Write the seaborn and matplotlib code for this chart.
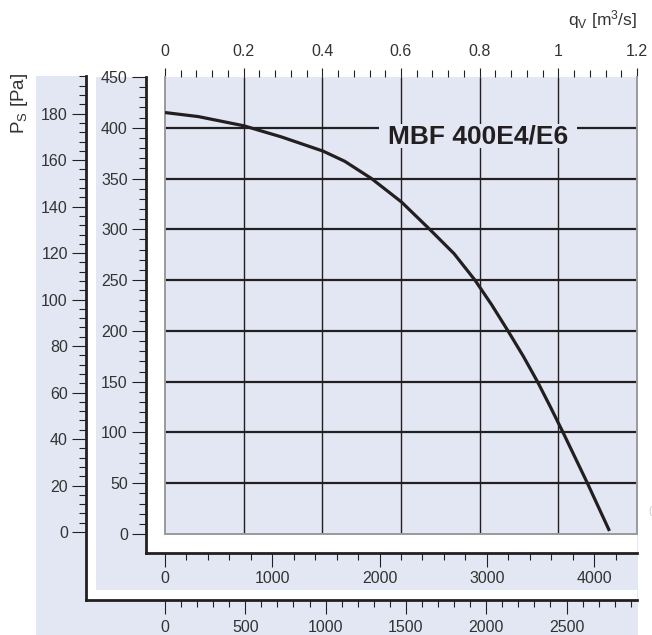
import numpy as np
import pandas as pd
import matplotlib
matplotlib.use("Agg")
import matplotlib.pyplot as plt
from matplotlib.patches import Rectangle
from matplotlib.path import Path
from matplotlib.ticker import FixedLocator, FixedFormatter, NullFormatter
import seaborn as sns

# ---------------- data ----------------
q_flow = [0.0, 0.085, 0.2, 0.296, 0.402, 0.457, 0.525, 0.601, 0.673, 0.735,
          0.788, 0.830, 0.872, 0.911, 0.947, 0.980, 1.012, 1.043, 1.074, 1.13]
ps_pa = [415, 411, 402, 391, 377, 367, 350, 327, 300, 276,
         250, 226, 200, 175, 150, 125, 100, 75, 50, 3]

q_ticks = [0.0, 0.2, 0.4, 0.6, 0.8, 1.0, 1.2]
q_labels = ["0", "0.2", "0.4", "0.6", "0.8", "1", "1.2"]
pa_ticks = [0, 50, 100, 150, 200, 250, 300, 350, 400, 450]
outer_ticks = [0, 20, 40, 60, 80, 100, 120, 140, 160, 180]
m3h_ticks = [0, 1000, 2000, 3000, 4000]
cfm_ticks = [0, 500, 1000, 1500, 2000, 2500]
model_name = "MBF 400E4/E6"

# ---------------- style ----------------
sns.set_style("white")
plt.rcParams["font.family"] = ["Liberation Sans", "DejaVu Sans"]
plt.rcParams["mathtext.fontset"] = "custom"
plt.rcParams["mathtext.rm"] = "Liberation Sans"
plt.rcParams["mathtext.it"] = "Liberation Sans:italic"

PANEL = "#e2e7f3"
INK = "#231f20"
TXT = "#333333"
W, H = 652, 635
LBL = 11.5

fig = plt.figure(figsize=(W / 100, H / 100), dpi=100)


def box(x0, y0, x1, y1):
    return [x0 / W, 1 - y1 / H, (x1 - x0) / W, (y1 - y0) / H]


def fig_rect(x0, y0, x1, y1, z):
    b = box(x0, y0, x1, y1)
    r = Rectangle((b[0], b[1]), b[2], b[3], transform=fig.transFigure,
                  facecolor=PANEL, edgecolor="none", zorder=z)
    fig.patches.append(r)


def px(v):  # pixels -> points
    return v * 0.72


def wide_box(x0, y0, width, height, mutation_size):
    padx = 0.33 * mutation_size
    pady = 0.0
    xa, xb = x0 - padx, x0 + width + padx
    ya, yb = y0 - pady, y0 + height + pady
    return Path([(xa, ya), (xb, ya), (xb, yb), (xa, yb), (xa, ya)], closed=True)


# outer light-blue panel
fig_rect(36, 76, 638, 635, -10)

# ---------- outer frame axes (secondary pressure scale + cfm) ----------
ax_o = fig.add_axes(box(86, 76, 637, 600), zorder=-8)
ax_o.set_facecolor("white")
ax_o.set_ylim((532 - 600) / 2.324, (532 - 76) / 2.324)
ax_o.set_xlim((86 - 165) / 0.1606, (637 - 165) / 0.1606)
for s in ["top", "right"]:
    ax_o.spines[s].set_visible(False)
for s in ["left", "bottom"]:
    ax_o.spines[s].set_color(INK)
    ax_o.spines[s].set_linewidth(2)
ax_o.yaxis.set_major_locator(FixedLocator(outer_ticks))
ax_o.yaxis.set_major_formatter(FixedFormatter([str(t) for t in outer_ticks]))
ax_o.yaxis.set_minor_locator(FixedLocator(np.arange(0, 197, 4)))
ax_o.xaxis.set_major_locator(FixedLocator(cfm_ticks))
ax_o.xaxis.set_major_formatter(FixedFormatter([str(t) for t in cfm_ticks]))
ax_o.xaxis.set_minor_locator(FixedLocator(np.arange(0, 2950, 100)))
ax_o.tick_params(axis="both", which="major", direction="out", length=px(14), width=0.8,
                 color=INK, labelcolor=TXT, labelsize=LBL, pad=3)
ax_o.tick_params(axis="both", which="minor", direction="out", length=px(7), width=0.8, color=INK)
ax_o.tick_params(axis="x", which="major", pad=4)
ax_o.tick_params(left=True, bottom=True, which="both")

# inner light-blue panel
fig_rect(96, 77, 638, 590, -6)

# ---------- Pa frame axes (Pa scale + m3/h) ----------
ax_p = fig.add_axes(box(146, 77, 637, 553), zorder=-4)
ax_p.set_facecolor("white")
ax_p.set_ylim((534 - 553) / 1.0156, 450)
ax_p.set_xlim((146 - 165) / 0.10739, (637.5 - 165) / 0.10739)
for s in ["top", "right"]:
    ax_p.spines[s].set_visible(False)
for s in ["left", "bottom"]:
    ax_p.spines[s].set_color(INK)
    ax_p.spines[s].set_linewidth(2)
ax_p.yaxis.set_major_locator(FixedLocator(pa_ticks))
ax_p.yaxis.set_major_formatter(FixedFormatter([str(t) for t in pa_ticks]))
ax_p.yaxis.set_minor_locator(FixedLocator(np.arange(0, 451, 10)))
ax_p.xaxis.set_major_locator(FixedLocator(m3h_ticks))
ax_p.xaxis.set_major_formatter(FixedFormatter([str(t) for t in m3h_ticks]))
ax_p.xaxis.set_minor_locator(FixedLocator(np.arange(0, 4401, 200)))
ax_p.tick_params(axis="both", which="major", direction="out", length=px(14), width=0.8,
                 color=INK, labelcolor=TXT, labelsize=LBL, pad=3)
ax_p.tick_params(axis="both", which="minor", direction="out", length=px(7), width=0.8, color=INK)
ax_p.tick_params(axis="x", which="major", pad=3)
ax_p.tick_params(left=True, bottom=True, which="both")

# ---------- main plot ----------
ax = fig.add_axes(box(165, 77, 637, 534), zorder=0)
ax.set_facecolor(PANEL)
ax.set_xlim(0, 1.2)
ax.set_ylim(0, 450)

for yv in pa_ticks[1:-1]:
    ax.axhline(yv, color=INK, lw=1.6, zorder=1)
for xv in q_ticks[1:-1]:
    ax.axvline(xv, color=INK, lw=1.0, zorder=1)

df = pd.DataFrame({"q": q_flow, "ps": ps_pa})
sns.lineplot(data=df, x="q", y="ps", ax=ax, color=INK, lw=2.3, zorder=4, sort=False)
for ln in ax.get_lines():
    ln.set_solid_joinstyle("round")
    ln.set_solid_capstyle("butt")

ax.text(0.796, 385, model_name, fontsize=19, fontweight="bold", color=INK,
        ha="center", va="baseline", zorder=3,
        bbox=dict(boxstyle=wide_box, facecolor=PANEL, edgecolor="none"))

ax.set_xlabel("")
ax.set_ylabel("")
ax.spines["top"].set_visible(False)
for s in ["left", "bottom", "right"]:
    ax.spines[s].set_color("#9a9a9a")
    ax.spines[s].set_linewidth(1.4)
ax.set_yticks([])
ax.xaxis.tick_top()
ax.xaxis.set_major_locator(FixedLocator(q_ticks))
ax.xaxis.set_major_formatter(FixedFormatter(q_labels))
ax.xaxis.set_minor_locator(FixedLocator(np.arange(0, 1.2001, 0.04)))
ax.xaxis.set_minor_formatter(NullFormatter())
ax.tick_params(axis="x", which="major", direction="out", length=px(9), width=0.8,
               color=INK, labelcolor=TXT, labelsize=LBL, pad=6.5, top=True, bottom=False)
ax.tick_params(axis="x", which="minor", direction="out", length=px(7), width=0.8,
               color=INK, top=True, bottom=False)

# ---------- axis titles ----------
fig.text(19 / W, 1 - 103 / H, r"P$_\mathrm{S}$ [Pa]", rotation=90, fontsize=13.5,
         color=TXT, ha="center", va="center")
fig.text(637 / W, 1 - 20 / H, r"q$_\mathrm{V}$ [m$^3$/s]", fontsize=12.5,
         color=TXT, ha="right", va="center")
fig.text(650 / W, 1 - 511 / H, "(", fontsize=7, color="#c8c8c8", ha="center", va="center")

fig.savefig("out.png", dpi=100)
